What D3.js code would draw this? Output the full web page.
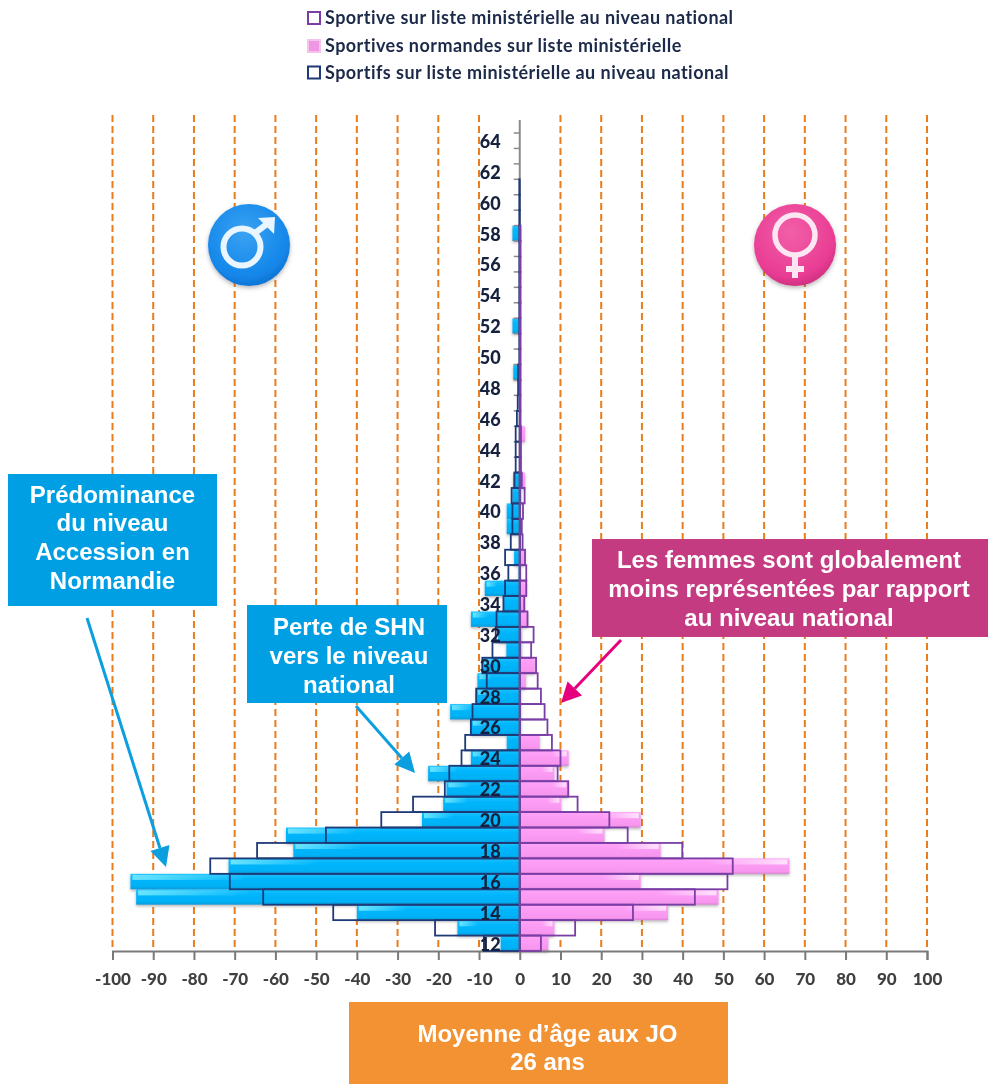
<!DOCTYPE html>
<html><head><meta charset="utf-8">
<script src="https://cdn.jsdelivr.net/npm/d3@7/dist/d3.min.js"></script>
<style>html,body{margin:0;padding:0;background:#fff;overflow:hidden}svg{display:block}</style>
</head><body><svg id="c" width="988" height="1084"></svg>
<script>
const ages = d3.range(12, 65);
const xTicks = d3.range(-100, 101, 10);
const maleNormandie = [-4.7,-15.3,-40,-94.2,-95.6,-71.5,-55.6,-57.4,-24,-18.8,-18,-22.5,-12,-3.2,-12,-17.1,-10.7,-10.4,-9.2,-3.3,-5.3,-12,-4,-8.6,-0.3,-1.4,0,-3.2,-3.2,-1.8,-1.6,0,0,0,0,0,0,-1.6,0,0,-1.8,0,0,0,0,0,-1.8,0,0,0,0,0,0];
const maleNational = [-8.8,-20.8,-45.8,-63,-71.2,-76,-64.5,-47.6,-34,-26.2,-18.4,-17.3,-14.3,-13.4,-12,-11.6,-10.7,-8.1,-9.2,-6.7,-5.9,-5.7,-4,-3.6,-2.8,-3.6,-2.2,-1.8,-1.8,-2,-1.3,-1,-1,-1,-0.7,-0.5,-0.4,-0.4,-0.1,-0.1,-0.1,-0.1,-0.1,-0.1,-0.1,-0.1,-0.1,-0.1,-0.1,-0.1,0,0,0];
const femaleNormandie = [7,8.5,36.4,48.8,29.7,66.2,34.6,20.8,29.7,10.2,11.9,8.5,12,4.9,0.3,0.3,0.3,1.5,3.7,0.5,0.5,2,1.3,1.6,0.2,1.3,0.2,0.1,0.2,0.4,1.3,0,0,1.3,0,0,0,0,0,0,0,0,0,0,0,0,0,0,0,0,0,0,0];
const femaleNational = [5.2,13.6,27.8,43,51,52.3,39.9,26.5,22,14.2,11.9,9.3,10,7.9,6.8,6.1,5.2,4.4,4,2.8,3.4,1.9,1.1,1.6,1.6,1.3,0.7,0.5,0.8,1.2,0.5,0.3,0.3,0.3,0.2,0.2,0.2,0.2,0.2,0.2,0.2,0.2,0.2,0.2,0.2,0.2,0.2,0,0,0,0,0,0];
const legendItems = ["Sportive sur liste ministérielle au niveau national","Sportives normandes sur liste ministérielle","Sportifs sur liste ministérielle au niveau national"];
const calloutBlue1 = ["Prédominance","du niveau","Accession en","Normandie"];
const calloutBlue2 = ["Perte de SHN","vers le niveau","national"];
const calloutPink = ["Les femmes sont globalement","moins représentées par rapport","au niveau national"];
const calloutOrange = ["Moyenne d’âge aux JO","26 ans"];

const svg = d3.select("#c");
const x = d3.scaleLinear().domain([-100,100]).range([112.5,927]);
const y = d3.scaleBand().domain(ages).range([951,133]).padding(0);
const bh = y.bandwidth();

const defs = svg.append("defs");
function lin(id, stops, horiz){
  const g = defs.append("linearGradient").attr("id",id).attr("x1",0).attr("y1",0).attr("x2",horiz?1:0).attr("y2",horiz?0:1);
  stops.forEach(s=>g.append("stop").attr("offset",s[0]).attr("stop-color",s[1]).attr("stop-opacity",s[2]===undefined?1:s[2]));
}
lin("blueBar",[[0,"#1cc4ff"],[0.3,"#03b6fd"],[0.8,"#02b1f6"],[1,"#0a9ad6"]]);
lin("pinkBar",[[0,"#ffa6f8"],[0.3,"#fd9df5"],[0.85,"#f796ef"],[1,"#dc82d6"]]);
lin("blueHi",[[0,"#6fe6ff",0.95],[1,"#6fe6ff",0]],true);
lin("pinkHi",[[0,"#ffe0fb",0],[1,"#ffe6fc",0.95]],true);
const rg1 = defs.append("radialGradient").attr("id","maleG").attr("cx","45%").attr("cy","35%").attr("r","70%");
rg1.append("stop").attr("offset",0).attr("stop-color","#3aa2f2");
rg1.append("stop").attr("offset",0.75).attr("stop-color","#1487ea");
rg1.append("stop").attr("offset",1).attr("stop-color","#0d6fce");
const rg2 = defs.append("radialGradient").attr("id","femaleG").attr("cx","45%").attr("cy","35%").attr("r","70%");
rg2.append("stop").attr("offset",0).attr("stop-color","#f25fa8");
rg2.append("stop").attr("offset",0.75).attr("stop-color","#e93d94");
rg2.append("stop").attr("offset",1).attr("stop-color","#c92c7c");
const sh = defs.append("filter").attr("id","shadow").attr("x","-20%").attr("y","-30%").attr("width","140%").attr("height","170%");
sh.append("feDropShadow").attr("dx",0).attr("dy",1.5).attr("stdDeviation",1.5).attr("flood-color","#555").attr("flood-opacity",0.45);
const soft = defs.append("filter").attr("id","soft").attr("x","-5%").attr("y","-5%").attr("width","110%").attr("height","110%");
soft.append("feGaussianBlur").attr("stdDeviation",0.5);
const iconSh = defs.append("filter").attr("id","iconSh").attr("x","-20%").attr("y","-20%").attr("width","140%").attr("height","140%");
iconSh.append("feDropShadow").attr("dx",0).attr("dy",2).attr("stdDeviation",2).attr("flood-color","#444").attr("flood-opacity",0.4);

const chart = svg.append("g").attr("filter","url(#soft)");

chart.append("g").selectAll("line").data(xTicks.filter(d=>d!==0)).join("line")
  .attr("x1",d=>x(d)).attr("x2",d=>x(d)).attr("y1",115).attr("y2",951)
  .attr("stroke","#ea7c1c").attr("stroke-width",2).attr("stroke-dasharray","7 4");

const rows = ages.map((a,i)=>({a,mn:maleNational[i],mf:maleNormandie[i],fn:femaleNational[i],ff:femaleNormandie[i]}));
function box(sel,key){
  return sel.selectAll("rect").data(rows.filter(r=>r[key]!==0)).join("rect")
    .attr("x",d=>Math.min(x(0),x(d[key]))).attr("width",d=>Math.abs(x(d[key])-x(0)))
    .attr("y",d=>y(d.a)).attr("height",bh);
}
box(chart.append("g"),"mn").attr("fill","#fff");
box(chart.append("g"),"fn").attr("fill","#fff");
box(chart.append("g").attr("filter","url(#shadow)"),"mf").attr("fill","url(#blueBar)");
box(chart.append("g").attr("filter","url(#shadow)"),"ff").attr("fill","url(#pinkBar)");
chart.append("g").selectAll("rect").data(rows.filter(r=>r.mf<-8)).join("rect")
  .attr("x",d=>x(d.mf)+2).attr("width",d=>Math.abs(x(d.mf)-x(0))*0.3)
  .attr("y",d=>y(d.a)+1).attr("height",bh*0.33).attr("fill","url(#blueHi)");
chart.append("g").selectAll("rect").data(rows.filter(r=>r.ff>8)).join("rect")
  .attr("x",d=>x(d.ff)-2-Math.abs(x(d.ff)-x(0))*0.3).attr("width",d=>Math.abs(x(d.ff)-x(0))*0.3)
  .attr("y",d=>y(d.a)+1).attr("height",bh*0.33).attr("fill","url(#pinkHi)");

const xAxis = d3.axisBottom(x).tickValues(xTicks).tickSize(9).tickPadding(13).tickFormat(d=>String(d));
const gx = chart.append("g").attr("transform","translate(0,951)").call(xAxis);
gx.select(".domain").attr("stroke","#7a7a7a").attr("stroke-width",2);
gx.selectAll(".tick line").attr("stroke","#7a7a7a").attr("stroke-width",2);
gx.selectAll("text").attr("font-family","Lato").attr("font-weight",900).attr("font-size",17).attr("fill","#3f3f3f");

const spine = chart.append("g");
spine.append("line").attr("x1",x(0)).attr("x2",x(0)).attr("y1",120).attr("y2",951).attr("stroke","#8a8a8a").attr("stroke-width",2);
spine.selectAll("line.t").data(ages).join("line").attr("class","t")
  .attr("x1",x(0)-6).attr("x2",x(0)).attr("y1",d=>y(d)).attr("y2",d=>y(d)).attr("stroke","#8a8a8a").attr("stroke-width",1.5);

box(chart.append("g"),"mn").attr("fill","none").attr("stroke","#1f3a78").attr("stroke-width",1.8);
box(chart.append("g"),"fn").attr("fill","none").attr("stroke","#7a3ea6").attr("stroke-width",1.8);

const yAxis = d3.axisLeft(y).tickValues(ages.filter(a=>a%2===0)).tickSize(0).tickPadding(19);
const gy = chart.append("g").attr("transform",`translate(${x(0)},1.5)`).call(yAxis);
gy.select(".domain").remove();
gy.selectAll("text").attr("font-family","Lato").attr("font-weight",900).attr("font-size",18).attr("fill","#14203c");

const legY = [18,46,72.5];
const leg = chart.append("g");
leg.selectAll("text").data(legendItems).join("text").attr("x",325).attr("y",(d,i)=>legY[i]).attr("dy","0.35em")
  .attr("font-family","Lato").attr("font-size",18).attr("font-weight",700).attr("letter-spacing",0.45).attr("fill","#1d2a48").text(d=>d);
const swatch = [{f:"#fff",s:"#7a3ea6"},{f:"#ee97e2",s:"#f3c3ee"},{f:"#fff",s:"#1f3a78"}];
leg.selectAll("rect").data(swatch).join("rect").attr("x",308).attr("y",(d,i)=>legY[i]-6).attr("width",12).attr("height",12)
  .attr("fill",d=>d.f).attr("stroke",d=>d.s).attr("stroke-width",2);

const m = chart.append("g").attr("transform","translate(249,245)");
m.append("circle").attr("r",41).attr("fill","url(#maleG)").attr("filter","url(#iconSh)");
m.append("circle").attr("cx",-7).attr("cy",2).attr("r",18.5).attr("fill","none").attr("stroke","#e9f5ff").attr("stroke-width",6);
m.append("path").attr("d","M6,-12 L18,-21").attr("stroke","#e9f5ff").attr("stroke-width",6).attr("fill","none");
m.append("path").attr("d","M9,-27 L26,-28 L25,-11 Z").attr("fill","#e9f5ff");
const f = chart.append("g").attr("transform","translate(795,245)");
f.append("circle").attr("r",41).attr("fill","url(#femaleG)").attr("filter","url(#iconSh)");
f.append("circle").attr("cy",-10).attr("r",20).attr("fill","none").attr("stroke","#fbe6f1").attr("stroke-width",5.5);
f.append("path").attr("d","M0,12 L0,33 M-9,24 L9,24").attr("stroke","#fbe6f1").attr("stroke-width",6).attr("fill","none");

function callout(bx,by,bw,bh2,fill,lines,cx,cy0,step){
  const g = svg.append("g");
  g.append("rect").attr("x",bx).attr("y",by).attr("width",bw).attr("height",bh2).attr("fill",fill);
  g.selectAll("text").data(lines).join("text").attr("x",cx).attr("y",(d,i)=>cy0+i*step).attr("dy","0.36em")
    .attr("text-anchor","middle").attr("font-family","Liberation Sans").attr("font-weight",700).attr("font-size",24).attr("fill","#fff").text(d=>d);
}
callout(8,474,209,132,"#009fe3",calloutBlue1,112.5,494,28.7);
callout(247,605,200,98,"#009fe3",calloutBlue2,349,626,29);
callout(592,539,396,98,"#c43b82",calloutPink,789,559,29);
callout(349,1002,379,82,"#f39233",calloutOrange,547.5,1033,28);

function arrow(x1,y1,x2,y2,color){
  const a = Math.atan2(y2-y1,x2-x1), L=20, W=10;
  const bx=x2-L*Math.cos(a), by=y2-L*Math.sin(a);
  const g=svg.append("g");
  g.append("line").attr("x1",x1).attr("y1",y1).attr("x2",bx).attr("y2",by).attr("stroke",color).attr("stroke-width",3);
  g.append("path").attr("d",`M${x2},${y2} L${bx-W*Math.sin(a)},${by+W*Math.cos(a)} L${bx+W*Math.sin(a)},${by-W*Math.cos(a)} Z`).attr("fill",color);
}
arrow(87,618,166,867,"#0b9fe0");
arrow(356,706,415,773,"#0b9fe0");
arrow(621,640,561,703,"#e6007e");
</script></body></html>
